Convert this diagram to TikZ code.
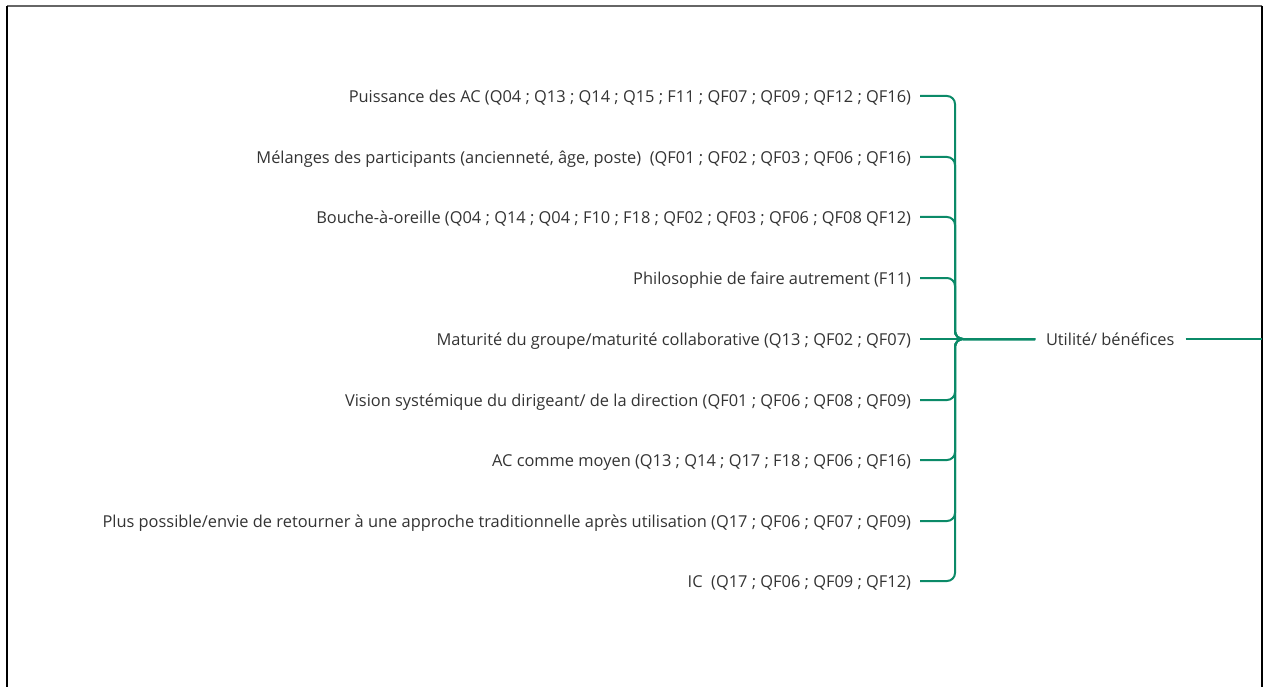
\documentclass[tikz,border=0pt]{standalone}
\usepackage{fontspec}
\setmainfont{Open Sans}
\definecolor{branch}{HTML}{0B8A68}
\definecolor{txt}{HTML}{333333}
\begin{document}
\begin{tikzpicture}[x=1pt,y=-1pt,
  label font/.style={text=txt,font=\fontsize{16.4}{19}\selectfont,text height=14.7pt,text depth=2pt},
  item/.style={label font,anchor=east,inner sep=4.5pt,outer sep=4.5pt},
  hub/.style={label font,anchor=west,inner sep=0pt,outer sep=11pt},
  link/.style={draw=branch,line width=2pt,rounded corners=8pt}]
\useasboundingbox (0,0) rectangle (1266,687);
% frame
\draw[line width=1.2pt,draw=black!60] (7,6) -- (1262,6);
\draw[line width=1.2pt] (7,6) -- (7,687);
\draw[line width=1.2pt] (1262,6) -- (1262,687);
% items
\node[item] (c1) at (920,96) {Puissance des AC (Q04 ; Q13 ; Q14 ; Q15 ; F11 ; QF07 ; QF09 ; QF12 ; QF16)};
\node[item] (c2) at (920,157) {Mélanges des participants (ancienneté, âge, poste)\ \ (QF01 ; QF02 ; QF03 ; QF06 ; QF16)};
\node[item] (c3) at (920,217) {Bouche-à-oreille (Q04 ; Q14 ; Q04 ; F10 ; F18 ; QF02 ; QF03 ; QF06 ; QF08 QF12)};
\node[item] (c4) at (920,278) {Philosophie de faire autrement (F11)};
\node[item] (c5) at (920,339) {Maturité du groupe/maturité collaborative (Q13 ; QF02 ; QF07)};
\node[item] (c6) at (920,400) {Vision systémique du dirigeant/ de la direction (QF01 ; QF06 ; QF08 ; QF09)};
\node[item] (c7) at (920,460) {AC comme moyen (Q13 ; Q14 ; Q17 ; F18 ; QF06 ; QF16)};
\node[item] (c8) at (920,521) {Plus possible/envie de retourner à une approche traditionnelle après utilisation (Q17 ; QF06 ; QF07 ; QF09)};
\node[item] (c9) at (920,581) {IC\ \ (Q17 ; QF06 ; QF09 ; QF12)};
% hub
\node[hub] (u) at (1035,339) {Utilité/ bénéfices};
\coordinate (r) at (1262,339);
% connectors
\foreach \c in {c1,c2,c3,c4,c6,c7,c8,c9}
  \draw[link] (\c.east) -| (955,339) -- (u.west);
\draw[link] (c5.east) -- (u.west);
\draw[link] (u.east) -- (r);
\end{tikzpicture}
\end{document}
